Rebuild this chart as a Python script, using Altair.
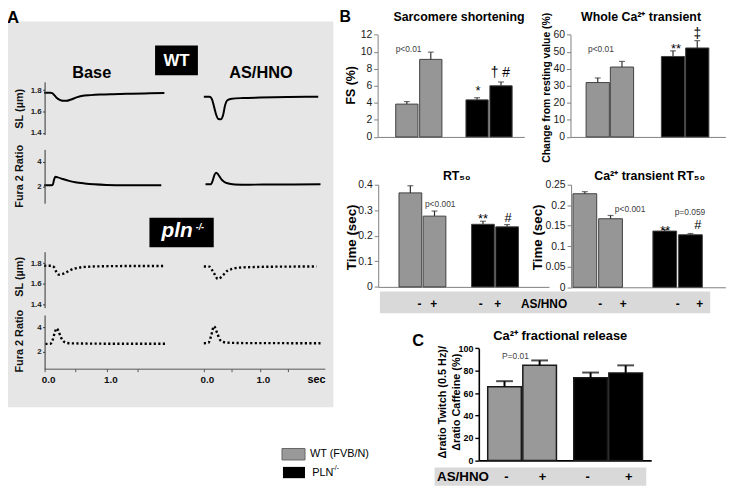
import altair as alt
import pandas as pd

FONT = "Liberation Sans, Arial, Helvetica, sans-serif"
OX, OY = 8, 8
W, H = 733, 482

# ---------------- bar data (panels B and C) ----------------
genotype = ["WT (FVB/N)", "WT (FVB/N)", "PLN-/-", "PLN-/-"]
as_hno = ["-", "+", "-", "+"]
geno_domain = ["WT (FVB/N)", "PLN-/-"]
as_domain = ["-", "+"]

fs_mean = [3.85, 9.1, 4.35, 6.0]
fs_err = [0.3, 0.85, 0.25, 0.45]
whole_mean = [31.9, 41.0, 47.2, 52.2]
whole_err = [2.7, 3.3, 3.3, 4.3]
rt50_mean = [0.368, 0.277, 0.245, 0.235]
rt50_err = [0.028, 0.020, 0.012, 0.009]
ca_rt50_mean = [0.228, 0.167, 0.137, 0.128]
ca_rt50_err = [0.005, 0.008, 0.004, 0.003]
frac_mean = [65.7, 84.7, 73.6, 78.0]
frac_err = [4.9, 4.4, 4.7, 6.7]

# ---------------- traces (panel A), time in s ----------------
wt_base_sl_t = [0, 0.1, 0.13, 0.16, 0.2, 0.25, 0.3, 0.36, 0.43, 0.52, 0.6, 0.75, 0.9, 1.1, 1.4, 1.7, 1.93]
wt_base_sl_v = [1.775, 1.775, 1.772, 1.755, 1.728, 1.708, 1.700, 1.700, 1.712, 1.732, 1.745, 1.753, 1.758, 1.762, 1.766, 1.770, 1.772]
wt_base_fu_t = [0, 0.12, 0.14, 0.16, 0.18, 0.22, 0.3, 0.4, 0.5, 0.65, 0.8, 1.0, 1.3, 1.6, 1.88]
wt_base_fu_v = [2.1, 2.1, 2.15, 2.55, 2.78, 2.74, 2.6, 2.45, 2.34, 2.24, 2.17, 2.12, 2.1, 2.1, 2.1]
wt_as_sl_t = [0, 0.1, 0.14, 0.18, 0.22, 0.26, 0.3, 0.34, 0.38, 0.42, 0.5, 0.7, 1.0, 1.5, 2.04]
wt_as_sl_v = [1.738, 1.737, 1.72, 1.65, 1.57, 1.53, 1.527, 1.56, 1.66, 1.705, 1.72, 1.726, 1.73, 1.735, 1.738]
wt_as_fu_t = [0.03, 0.13, 0.16, 0.19, 0.22, 0.26, 0.31, 0.36, 0.42, 0.55, 0.8, 1.2, 1.6, 2.08]
wt_as_fu_v = [2.18, 2.18, 2.5, 2.95, 3.12, 2.95, 2.6, 2.38, 2.25, 2.16, 2.14, 2.15, 2.16, 2.18]
pln_base_sl_t = [0, 0.12, 0.16, 0.2, 0.24, 0.3, 0.36, 0.45, 0.55, 0.7, 1.0, 1.5, 1.94]
pln_base_sl_v = [1.774, 1.774, 1.76, 1.71, 1.688, 1.695, 1.712, 1.74, 1.755, 1.765, 1.77, 1.772, 1.772]
pln_base_fu_t = [0.02, 0.1, 0.14, 0.17, 0.2, 0.23, 0.26, 0.3, 0.36, 0.45, 0.7, 1.0, 1.4, 1.97]
pln_base_fu_v = [2.63, 2.64, 3.0, 3.55, 3.92, 3.7, 3.3, 2.9, 2.72, 2.68, 2.66, 2.65, 2.65, 2.64]
pln_as_sl_t = [0, 0.1, 0.15, 0.19, 0.25, 0.3, 0.34, 0.42, 0.5, 0.6, 0.9, 1.4, 2.01]
pln_as_sl_v = [1.767, 1.766, 1.73, 1.694, 1.646, 1.66, 1.681, 1.726, 1.743, 1.755, 1.762, 1.766, 1.767]
pln_as_fu_t = [0, 0.08, 0.13, 0.18, 0.24, 0.29, 0.36, 0.5, 0.8, 1.2, 1.6, 2.08]
pln_as_fu_v = [2.69, 2.72, 3.3, 4.1, 3.5, 2.96, 2.77, 2.72, 2.7, 2.7, 2.69, 2.69]

layers = []


def one():
    return alt.Data(values=[{"k": 0}])


def txt(s, x, y, size, weight="normal", color="#000000", align="center",
        baseline="middle", style="normal", angle=None):
    kw = dict(text=s, font=FONT, fontSize=size, fontWeight=weight, color=color,
              align=align, baseline=baseline, fontStyle=style)
    if angle is not None:
        kw["angle"] = angle
    return alt.Chart(one()).mark_text(**kw).encode(x=alt.value(x - OX), y=alt.value(y - OY))


def box(x0, y0, x1, y1, fill, stroke=None, sw=1):
    kw = dict(fill=fill)
    if stroke:
        kw.update(stroke=stroke, strokeWidth=sw)
    return alt.Chart(one()).mark_rect(**kw).encode(
        x=alt.value(x0 - OX), x2=alt.value(x1 - OX),
        y=alt.value(y0 - OY), y2=alt.value(y1 - OY))


# ---------------- Panel A ----------------
layers.append(box(0, 19, 337, 409, "#e6e6e6"))
layers.append(txt("A", 13, 16, 17, "bold"))
layers.append(box(156.7, 43.3, 200, 73.3, "#000000"))
layers.append(txt("WT", 178.3, 59, 17, "bold", "#ffffff"))
layers.append(txt("Base", 92.7, 71.5, 16.5, "bold"))
layers.append(txt("AS/HNO", 263.7, 71.5, 16.5, "bold"))
layers.append(box(151, 217.3, 216, 247.3, "#000000"))
layers.append(txt("pln", 179, 237, 21, "bold", "#ffffff", baseline="alphabetic", style="italic"))
layers.append(txt("-/-", 202, 227, 9, "bold", "#ffffff", style="italic"))
layers.append(txt("sec", 320, 381, 11, "bold"))

t_base = alt.Scale(domain=[0, 2.563], range=[44.5 - OX, 206 - OX], nice=False, zero=False)
t_as = alt.Scale(domain=[0, 2.157], range=[206 - OX, 328.3 - OX], nice=False, zero=False)
wt_sl = alt.Scale(domain=[1.385, 1.877], range=[133.3 - OY, 80 - OY], nice=False, zero=False)
wt_fu = alt.Scale(domain=[0.62, 5.03], range=[202.7 - OY, 148.3 - OY], nice=False, zero=False)
pln_sl = alt.Scale(domain=[1.368, 1.911], range=[308.3 - OY, 251.7 - OY], nice=False, zero=False)
pln_fu = alt.Scale(domain=[0.58, 5.03], range=[370 - OY, 315.7 - OY], nice=False, zero=False)


def a_yaxis(values, fmt, title, tx, ty):
    return alt.Axis(orient="left", offset=-(45 - OX), values=values, format=fmt, grid=False,
                    domainColor="#333333", domainWidth=1, tickColor="#333333", tickSize=2,
                    tickWidth=1, labelFont=FONT, labelFontSize=8, labelFontWeight="bold",
                    labelColor="#222222", labelPadding=1.5, labelOverlap=False,
                    title=title, titleFont=FONT, titleFontSize=11, titleFontWeight="bold",
                    titleColor="#111111", titleX=tx - 45, titleY=ty - OY, titleAngle=270,
                    titleAlign="center", titleBaseline="middle", zindex=2)


def a_xaxis(lab_off):
    return alt.Axis(orient="bottom", offset=(370 - OY) - H, values=[0, 0.5, 1, 1.5],
                    labelExpr="datum.value == 0 ? '0.0' : (datum.value == 1 ? '1.0' : '')",
                    grid=False, domainColor="#555555", domainWidth=1, tickColor="#555555",
                    tickSize=3, labelFont=FONT, labelFontSize=10, labelFontWeight="bold",
                    labelColor="#111111", labelPadding=3, labelOffset=lab_off,
                    labelFlush=False, labelOverlap=False, title=None, zindex=2)


def trace(t, v, ts, ys, dotted, yaxis=None, xaxis=None):
    df = pd.DataFrame({"t": t, "v": v})
    kw = dict(color="#000000", strokeWidth=2.0, interpolate="monotone")
    if dotted:
        kw.update(strokeDash=[2.2, 2.4], strokeWidth=2.4, strokeCap="butt")
    return alt.Chart(df).mark_line(**kw).encode(
        x=alt.X("t:Q", scale=ts, axis=xaxis),
        y=alt.Y("v:Q", scale=ys, axis=yaxis))


layers.append(trace(wt_base_sl_t, wt_base_sl_v, t_base, wt_sl, False,
                    yaxis=a_yaxis([1.4, 1.6, 1.8], ".1f", "SL (µm)", 19.5, 106.7)))
layers.append(trace(wt_base_fu_t, wt_base_fu_v, t_base, wt_fu, False,
                    yaxis=a_yaxis([2, 4], "d", "Fura 2 Ratio", 19.5, 175)))
layers.append(trace(wt_as_sl_t, wt_as_sl_v, t_as, wt_sl, False))
layers.append(trace(wt_as_fu_t, wt_as_fu_v, t_as, wt_fu, False))
layers.append(trace(pln_base_sl_t, pln_base_sl_v, t_base, pln_sl, True,
                    yaxis=a_yaxis([1.4, 1.6, 1.8], ".1f", "SL (µm)", 20, 276.7)))
layers.append(trace(pln_base_fu_t, pln_base_fu_v, t_base, pln_fu, True,
                    yaxis=a_yaxis([2, 4], "d", "Fura 2 Ratio", 20, 341.7),
                    xaxis=a_xaxis(4)))
layers.append(trace(pln_as_sl_t, pln_as_sl_v, t_as, pln_sl, True))
layers.append(trace(pln_as_fu_t, pln_as_fu_v, t_as, pln_fu, True, xaxis=a_xaxis(3)))

# ---------------- bar panels ----------------
styleB = dict(axis="#808080", dw=1, tick="#808080", tw=1, ts=4, lfs=10.5, lfw="normal",
              lc="#1a1a1a", stroke="#404040", sw=1, ec="#303030", ew=1.2, cap=6)
styleC = dict(axis="#000000", dw=1.6, tick="#000000", tw=1.4, ts=4, lfs=9, lfw="bold",
              lc="#000000", stroke="#1a1a1a", sw=1.5, ec="#000000", ew=2, cap=17)


def bar_panel(mean, err, gray, geo, ymax, yticks, fmt, ytitle, tpos, tfs, st):
    S = geo["g2"] - geo["g1"]
    pI = 1 - geo["gw"] / S
    span = geo["x1"] - geo["x0"]
    pO = (span / S - 2 + pI) / 2
    free = span - S * (2 - pI)
    align = (geo["g1"] - geo["x0"]) / free
    p2 = (geo["gw"] - 2 * geo["bw"]) / (geo["gw"] - geo["bw"])
    xs = alt.Scale(domain=geno_domain, range=[geo["x0"] - OX, geo["x1"] - OX],
                   paddingInner=pI, paddingOuter=pO, align=align)
    xo = alt.Scale(domain=as_domain, paddingInner=p2, paddingOuter=0)
    ys = alt.Scale(domain=[0, ymax], range=[geo["y0"] - OY, geo["ytop"] - OY], nice=False, zero=False)
    cs = alt.Scale(domain=geno_domain, range=[gray, "#000000"])
    df = pd.DataFrame({"genotype": genotype, "as_hno": as_hno, "mean": mean,
                       "top": [m + e for m, e in zip(mean, err)]})
    xaxis = alt.Axis(orient="bottom", offset=(geo["y0"] - OY) - H, labels=False, ticks=False,
                     title=None, grid=False, domainColor=st["axis"], domainWidth=st["dw"])
    ykw = dict(orient="left", offset=-(geo["x0"] - OX), values=yticks, format=fmt,
               grid=False, domainColor=st["axis"], domainWidth=st["dw"],
               tickColor=st["tick"], tickWidth=st["tw"], tickSize=st["ts"],
               labelFont=FONT, labelFontSize=st["lfs"], labelFontWeight=st["lfw"],
               labelColor=st["lc"], labelPadding=2, labelOverlap=False)
    if ytitle:
        ykw.update(title=ytitle, titleFont=FONT, titleFontSize=tfs, titleFontWeight="bold",
                   titleColor="#000000", titleX=tpos[0] - geo["x0"], titleY=tpos[1] - OY,
                   titleAngle=270, titleAlign="center", titleBaseline="middle")
    else:
        ykw.update(title=None)
    yaxis = alt.Axis(**ykw)
    bars = alt.Chart(df).mark_bar(stroke=st["stroke"], strokeWidth=st["sw"]).encode(
        x=alt.X("genotype:N", scale=xs, axis=xaxis),
        xOffset=alt.XOffset("as_hno:N", scale=xo),
        y=alt.Y("mean:Q", scale=ys, axis=yaxis),
        color=alt.Color("genotype:N", scale=cs, legend=None))
    rules = alt.Chart(df).mark_rule(color=st["ec"], strokeWidth=st["ew"]).encode(
        x=alt.X("genotype:N", scale=xs, axis=None),
        xOffset=alt.XOffset("as_hno:N", scale=xo),
        y=alt.Y("mean:Q", scale=ys, axis=None),
        y2=alt.Y2("top:Q"))
    caps = alt.Chart(df).mark_tick(orient="horizontal", size=st["cap"], thickness=st["ew"],
                                   color=st["ec"]).encode(
        x=alt.X("genotype:N", scale=xs, axis=None),
        xOffset=alt.XOffset("as_hno:N", scale=xo),
        y=alt.Y("top:Q", scale=ys, axis=None))
    return [bars, rules, caps]


layers += bar_panel(fs_mean, fs_err, "#969696",
                    dict(x0=381.7, x1=530, y0=135.7, ytop=32.3, g1=400, g2=471, gw=46.7, bw=22.5),
                    12, [0, 2, 4, 6, 8, 10, 12], "d", "FS (%)", (354, 83), 12.5, styleB)
layers += bar_panel(whole_mean, whole_err, "#969696",
                    dict(x0=576.7, x1=733.3, y0=135.7, ytop=32.3, g1=592.5, g2=668.6, gw=48, bw=23.5),
                    60, [0, 10, 20, 30, 40, 50, 60], "d", "Change from resting value (%)",
                    (552.7, 85.5), 10.5, styleB)
layers += bar_panel(rt50_mean, rt50_err, "#969696",
                    dict(x0=382.3, x1=555, y0=287.3, ytop=184, g1=403.3, g2=476.7, gw=47.4, bw=23),
                    0.4, [0, 0.1, 0.2, 0.3, 0.4], "~g", "Time (sec)", (355, 236.7), 13.5, styleB)
layers += bar_panel(ca_rt50_mean, ca_rt50_err, "#969696",
                    dict(x0=577.3, x1=733.3, y0=287.7, ytop=184, g1=579.2, g2=660, gw=50, bw=24),
                    0.25, [0, 0.05, 0.1, 0.15, 0.2, 0.25], "~g", "Time (sec)", (543.3, 236.7),
                    13.5, styleB)
layers += bar_panel(frac_mean, frac_err, "#999999",
                    dict(x0=484, x1=658.3, y0=462.7, ytop=349.3, g1=493, g2=580, gw=69.5, bw=34),
                    100, [0, 20, 40, 60, 80, 100], "d", None, None, 11, styleC)
# two-line y title of panel C, drawn as rotated text lines
layers.append(txt("\u0394ratio Twitch (0.5 Hz)/", 447.5, 404, 11, "bold", angle=270))
layers.append(txt("\u0394ratio Caffeine (%)", 461.5, 404, 11, "bold", angle=270))

# ---------------- Panel B text ----------------
layers.append(txt("B", 349, 15, 16, "bold"))
layers.append(txt("Sarcomere shortening", 464, 14, 12.5, "bold"))
layers.append(txt("Whole Ca\u00b2\u207a transient", 648, 14, 12.5, "bold"))
layers.append(txt("RT\u2085\u2080", 461.7, 175, 12.5, "bold"))
layers.append(txt("Ca\u00b2\u207a transient RT\u2085\u2080", 656.7, 175, 12.5, "bold"))
ann = "#404040"
layers.append(txt("p<0.01", 413, 46.5, 8.5, color=ann))
layers.append(txt("*", 483.3, 93.5, 13, baseline="alphabetic"))
layers.append(txt("\u2020 #", 505.8, 75, 14, baseline="alphabetic"))
layers.append(txt("p<0.01", 607.5, 46.7, 8.5, color=ann))
layers.append(txt("**", 683.3, 50.5, 13, baseline="alphabetic"))
layers.append(txt("\u2021", 705, 36, 14, baseline="alphabetic"))
layers.append(txt("p<0.001", 445, 203.3, 8.5, color=ann))
layers.append(txt("**", 488.3, 222.5, 13, baseline="alphabetic"))
layers.append(txt("#", 513.7, 222, 13, baseline="alphabetic"))
layers.append(txt("p<0.001", 637, 208.3, 8.5, color=ann))
layers.append(txt("p=0.059", 697.5, 211.5, 8.5, color=ann))
layers.append(txt("**", 672.5, 234.5, 13, baseline="alphabetic"))
layers.append(txt("#", 705.5, 229, 13, baseline="alphabetic"))

layers.append(box(384, 292, 718, 314, "#d9d9d9"))
for s, x in [("-", 424), ("+", 438.5), ("-", 486), ("+", 503), ("-", 606.7), ("+", 630),
             ("-", 685), ("+", 707.3)]:
    layers.append(txt(s, x, 304.5, 12, "bold"))
layers.append(txt("AS/HNO", 550, 304.5, 12, "bold"))

# ---------------- Panel C text ----------------
layers.append(txt("C", 422.7, 341.7, 16.5, "bold"))
layers.append(txt("Ca\u00b2\u207a fractional release", 566.3, 337.3, 13, "bold"))
layers.append(txt("P=0.01", 521, 357.3, 8.5, color=ann))
layers.append(box(439.3, 470, 653.3, 488.3, "#d9d9d9"))
layers.append(txt("AS/HNO", 468, 479.3, 13.5, "bold"))
for s, x in [("-", 512), ("+", 548.5), ("-", 594), ("+", 635.7)]:
    layers.append(txt(s, x, 479.3, 13, "bold"))

# ---------------- legend ----------------
layers.append(box(285, 450.7, 308.3, 462.3, "#999999", "#666666"))
layers.append(txt("WT (FVB/N)", 313.3, 456.7, 11, align="left"))
layers.append(box(286, 469.3, 308.3, 480.7, "#000000"))
layers.append(txt("PLN", 315.5, 475.5, 11, align="left"))
layers.append(txt("-/-", 336, 470.5, 7, align="left"))

chart = alt.layer(*layers).resolve_scale(
    x="independent", y="independent", xOffset="independent", color="independent"
).properties(
    width=W, height=H, padding=0, autosize=alt.AutoSizeParams(type="none")
).configure_view(stroke=None)

chart.save("out.html", embed_options={"renderer": "svg", "actions": False})
